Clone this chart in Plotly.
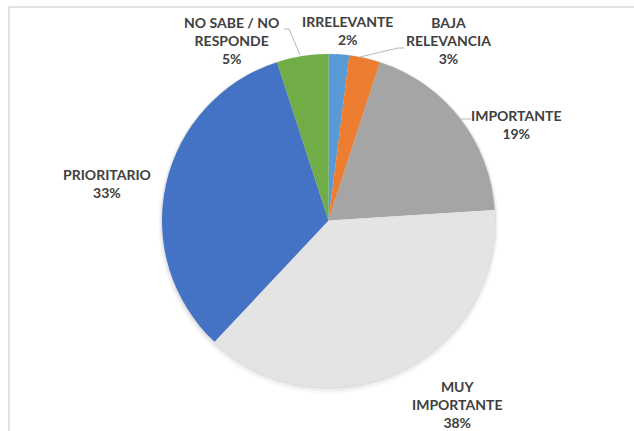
import plotly.graph_objects as go

# Survey answers, clockwise from 12 o'clock
categories = ["IRRELEVANTE", "BAJA RELEVANCIA", "IMPORTANTE", "MUY IMPORTANTE",
              "PRIORITARIO", "NO SABE / NO RESPONDE"]
shares = [2, 3, 19, 38, 33, 5]
label_lines = [["IRRELEVANTE"], ["BAJA", "RELEVANCIA"], ["IMPORTANTE"],
               ["MUY", "IMPORTANTE"], ["PRIORITARIO"], ["NO SABE / NO", "RESPONDE"]]
colors = ["#5B9BD5", "#ED7D31", "#A5A5A5", "#E4E4E4", "#4472C4", "#70AD47"]

W, H = 634, 431
TEXT_COLOR = "#404040"
FONT = "Lato"

fig = go.Figure()
fig.add_trace(go.Pie(
    labels=categories,
    values=shares,
    sort=False,
    direction="clockwise",
    rotation=0,
    marker=dict(colors=colors, line=dict(width=0)),
    textinfo="none",
    hoverinfo="label+percent",
    showlegend=False,
    domain=dict(x=[162 / W, 495 / W], y=[1 - 387 / H, 1 - 54 / H]),
))

# Data label placement (pixel centres of the first line of each label)
label_pos = {
    "IRRELEVANTE": (347, 21),
    "BAJA RELEVANCIA": (448, 21),
    "IMPORTANTE": (516, 115),
    "MUY IMPORTANTE": (457, 385),
    "PRIORITARIO": (107, 174),
    "NO SABE / NO RESPONDE": (231, 21),
}
LINE_H = 19.2

annotations = []
for cat, lines, val in zip(categories, label_lines, shares):
    x0, y0 = label_pos[cat]
    text = "<br>".join(lines + [f"{val}%"])
    n = len(lines) + 1
    yc = y0 + (n - 1) * LINE_H / 2
    annotations.append(dict(
        x=x0 / W, y=1 - yc / H, xref="paper", yref="paper",
        text=text, showarrow=False, xanchor="center", yanchor="middle",
        align="center",
        font=dict(family=FONT, size=14, color=TEXT_COLOR, weight="bold"),
    ))

def px_path(points):
    return "M " + " L ".join(f"{x / W},{1 - y / H}" for x, y in points)

# soft drop shadow under the pie
CX, CY, R = 328.5, 220.5, 166.5
shadow = []
for grow, dy, alpha in [(4, 3, 0.025), (2.5, 2, 0.04), (1.2, 1, 0.06)]:
    shadow.append(dict(
        type="circle", xref="paper", yref="paper", layer="below",
        x0=(CX - R - grow) / W, x1=(CX + R + grow) / W,
        y0=1 - (CY + dy + R + grow) / H, y1=1 - (CY + dy - R - grow) / H,
        fillcolor=f"rgba(0,0,0,{alpha})", line=dict(width=0),
    ))

shapes = shadow + [
    # chart-area frame (top and left edges)
    dict(type="line", xref="paper", yref="paper", x0=9 / W, x1=1, y0=1 - 7 / H, y1=1 - 7 / H,
         line=dict(color="#D9D9D9", width=1.5)),
    dict(type="line", xref="paper", yref="paper", x0=9 / W, x1=9 / W, y0=0, y1=1 - 7 / H,
         line=dict(color="#D9D9D9", width=1.5)),
    # leader lines
    dict(type="path", xref="paper", yref="paper",
         path=px_path([(284, 29), (289, 29), (300, 55)]),
         line=dict(color="#A6A6A6", width=0.8)),
    dict(type="path", xref="paper", yref="paper",
         path=px_path([(360, 57), (398, 48), (404, 48)]),
         line=dict(color="#A6A6A6", width=0.8)),
    dict(type="path", xref="paper", yref="paper",
         path=px_path([(461, 119), (471, 119)]),
         line=dict(color="#A6A6A6", width=0.8)),
]

fig.update_layout(
    width=W, height=H,
    margin=dict(l=0, r=0, t=0, b=0),
    paper_bgcolor="white",
    plot_bgcolor="white",
    annotations=annotations,
    shapes=shapes,
)

fig.write_html("out.html", config={"displayModeBar": False})
